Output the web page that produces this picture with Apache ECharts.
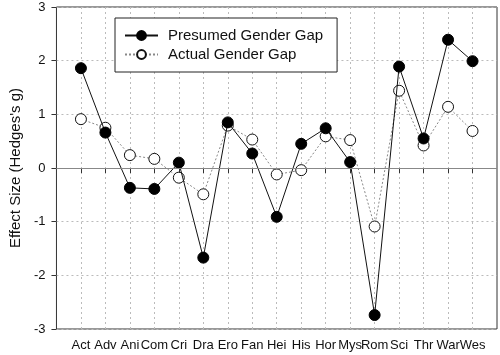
<!DOCTYPE html>
<html>
<head>
<meta charset="utf-8">
<script src="https://cdn.jsdelivr.net/npm/echarts@6/dist/echarts.min.js"></script>
<style>
  html, body { margin: 0; padding: 0; background: #fff; }
  #chart { width: 500px; height: 355px; }
</style>
</head>
<body>
<div id="chart"></div>
<script>
var genres = ['Act', 'Adv', 'Ani', 'Com', 'Cri', 'Dra', 'Ero', 'Fan', 'Hei',
  'His', 'Hor', 'Mys', 'Rom', 'Sci', 'Thr', 'War', 'Wes'];
var presumedGap = [1.86, 0.66, -0.37, -0.39, 0.10, -1.67, 0.85, 0.27, -0.91,
  0.45, 0.74, 0.11, -2.74, 1.89, 0.55, 2.39, 1.99];
var actualGap = [0.91, 0.75, 0.24, 0.17, -0.18, -0.49, 0.79, 0.53, -0.12,
  -0.04, 0.59, 0.52, -1.09, 1.44, 0.42, 1.14, 0.69];

// pad one empty slot each side so points sit off the frame
var cats = [''].concat(genres, ['']);
function pts(arr) {
  return arr.map(function (v, i) { return [i + 1, v]; });
}
function inner(i) { return i > 0 && i < cats.length - 1; }

var myChart = echarts.init(document.getElementById('chart'));
myChart.setOption({
  animation: false,
  textStyle: { fontFamily: 'Liberation Sans, Arial, sans-serif' },
  grid: {
    left: 50, right: 3, top: 7, bottom: 26,
    show: true, borderColor: '#333', borderWidth: 1
  },
  legend: {
    orient: 'vertical',
    left: 115, top: 18,
    padding: [10, 14, 10, 9],
    itemGap: 4,
    itemWidth: 33, itemHeight: 11,
    borderColor: '#222', borderWidth: 1,
    backgroundColor: '#fff',
    textStyle: { fontSize: 15, lineHeight: 15, color: '#111', padding: [0, 0, 0, 5] },
    data: ['Presumed Gender Gap', 'Actual Gender Gap']
  },
  xAxis: {
    type: 'category',
    data: cats,
    boundaryGap: false,
    axisLine: { show: false },
    axisTick: { show: true, inside: false, length: 5, interval: inner,
      lineStyle: { color: '#333' } },
    axisLabel: { interval: inner, fontSize: 13, color: '#111', margin: 10 },
    splitLine: { show: true, interval: inner,
      lineStyle: { color: '#bbb', type: [2, 3], width: 1 } }
  },
  yAxis: {
    type: 'value',
    min: -3, max: 3, interval: 1,
    name: "Effect Size (Hedges's g)",
    nameLocation: 'middle',
    nameGap: 31,
    nameTextStyle: { fontSize: 15, color: '#111' },
    axisLine: { show: false },
    axisTick: { show: true, length: 5, lineStyle: { color: '#333' } },
    axisLabel: { fontSize: 13, color: '#111', margin: 11 },
    splitLine: { show: true, lineStyle: { color: '#bbb', type: [2, 3], width: 1 } }
  },
  series: [
    {
      name: 'Presumed Gender Gap',
      type: 'line',
      data: pts(presumedGap),
      symbol: 'circle', symbolSize: 11,
      itemStyle: { color: '#000', borderColor: '#000', borderWidth: 1 },
      lineStyle: { color: '#111', width: 1 },
      z: 3,
      markLine: {
        silent: true, symbol: 'none', label: { show: false },
        lineStyle: { color: '#888', type: 'solid', width: 1 },
        data: [{ yAxis: 0 }]
      }
    },
    {
      name: 'Actual Gender Gap',
      type: 'line',
      data: pts(actualGap),
      symbol: 'circle', symbolSize: 11,
      itemStyle: { color: '#fff', borderColor: '#111', borderWidth: 1 },
      lineStyle: { color: '#888', width: 1, type: [2, 2] },
      z: 2
    }
  ]
});
</script>
</body>
</html>
